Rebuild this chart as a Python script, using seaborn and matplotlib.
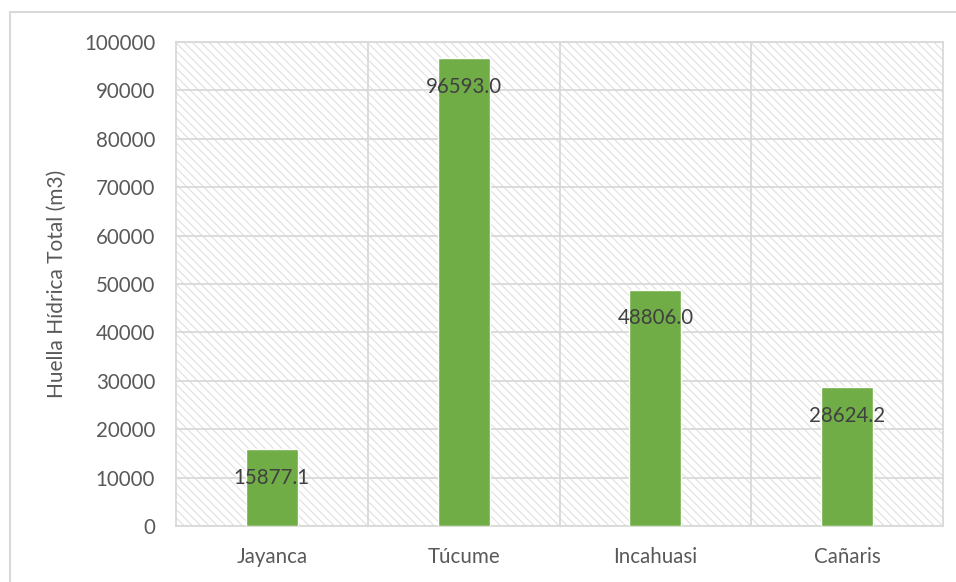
import matplotlib
matplotlib.use("Agg")
import matplotlib.pyplot as plt
from matplotlib.patches import Rectangle
import seaborn as sns
import pandas as pd

# Total water footprint per district
districts = ["Jayanca", "Túcume", "Incahuasi", "Cañaris"]
footprint = [15877.1, 96593.0, 48806.0, 28624.2]
y_ticks = [0, 10000, 20000, 30000, 40000, 50000, 60000, 70000, 80000, 90000, 100000]

df = pd.DataFrame({"Distrito": districts, "Huella": footprint})

sns.set_style("white")
plt.rcParams["font.family"] = ["Lato", "DejaVu Sans"]
plt.rcParams["hatch.linewidth"] = 0.8

W, H = 956, 582
fig = plt.figure(figsize=(W / 100, H / 100), dpi=100)
ax = fig.add_axes([176 / W, 1 - 526 / H, (943 - 176) / W, (526 - 42) / H])

grid_c = "#d9d9d9"
text_c = "#595959"

# hatched plot-area background
ax.add_patch(Rectangle((0, 0), 1, 1, transform=ax.transAxes, facecolor="white",
                       edgecolor="#e0e0e0", hatch="\\\\\\\\", lw=0, zorder=0))

sns.barplot(data=df, x="Distrito", y="Huella", color="#70AD47", width=0.27,
            saturation=1, ax=ax, zorder=3)

ax.set_ylim(0, 100000)
ax.set_yticks(y_ticks)
ax.set_yticklabels([str(v) for v in y_ticks])
ax.set_xlim(-0.5, len(districts) - 0.5)

# gridlines: horizontal at each tick, vertical between categories
ax.set_axisbelow(True)
ax.yaxis.grid(True, color=grid_c, lw=1.3)
ax.set_xticks([0.5, 1.5, 2.5], minor=True)
ax.xaxis.grid(True, which="minor", color=grid_c, lw=1.3)
ax.xaxis.grid(False, which="major")
for s in ax.spines.values():
    s.set_color(grid_c)
    s.set_linewidth(1.3)

ax.tick_params(axis="both", which="both", length=0)
ax.tick_params(axis="y", pad=15, labelsize=14.8, labelcolor=text_c)
ax.tick_params(axis="x", pad=15, labelsize=14.8, labelcolor=text_c)
ax.set_xlabel("")
ax.set_ylabel("Huella Hídrica Total (m3)", fontsize=15, color=text_c, labelpad=12)

# value labels just inside the top of each bar
for i, v in enumerate(footprint):
    ax.annotate(f"{v:.1f}", xy=(i, v), xytext=(0, -20.5), textcoords="offset points",
                ha="center", va="center", fontsize=14.8, color="#404040", zorder=5)

# outer chart frame
fig.patches.append(Rectangle((10 / W, -0.1), 1.2, 1 - 12 / H + 0.1,
                             transform=fig.transFigure, fill=False,
                             edgecolor=grid_c, lw=1.5))

fig.savefig("out.png", dpi=100)
